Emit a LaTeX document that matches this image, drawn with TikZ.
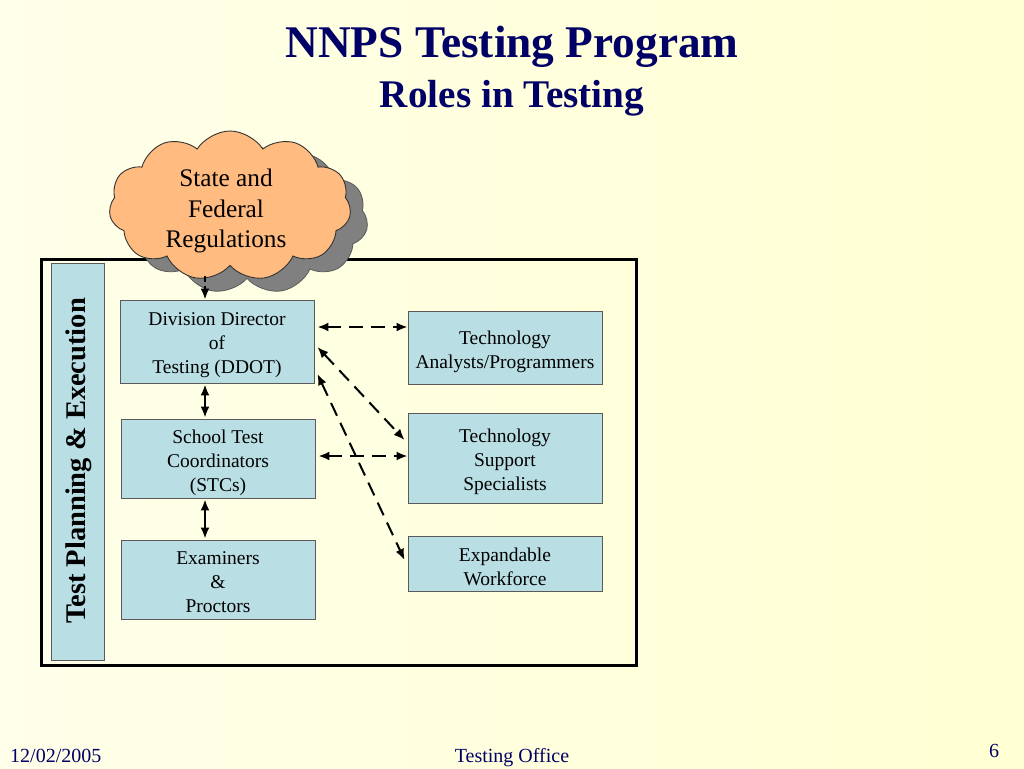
\documentclass[tikz,border=0pt]{standalone}
\usepackage{fontspec}
\setmainfont{Liberation Serif}
\usetikzlibrary{shapes.symbols,arrows.meta}
\definecolor{navy}{HTML}{000066}
\definecolor{bgleft}{HTML}{FFFFEA}
\definecolor{bgright}{HTML}{FFFFD2}
\definecolor{boxfill}{HTML}{B9DEE4}
\definecolor{boxborder}{HTML}{5A5A5A}
\definecolor{cloudfill}{HTML}{FFBB80}
\definecolor{cloudshadow}{HTML}{808080}
\begin{document}
\begin{tikzpicture}[x=1pt,y=-1pt,
  rolebox/.style={draw=boxborder, line width=0.9pt, fill=boxfill, minimum width=194pt, inner sep=0pt},
  roletext/.style={align=center, inner sep=0pt, font=\fontsize{19.5}{24}\selectfont},
  solidlink/.style={line width=2pt, {Latex[length=11pt,width=9pt]}-{Latex[length=11pt,width=9pt]}},
  dashlink/.style={line width=2pt, dash pattern=on 14pt off 8pt, {Latex[length=11pt,width=9pt]}-{Latex[length=11pt,width=9pt]}},
  dashone/.style={line width=2pt, dash pattern=on 6pt off 4pt, -{Latex[length=11pt,width=9pt]}},
  cloudstyle/.style={cloud, cloud puffs=11, cloud puff arc=115, cloud ignores aspect,
    minimum width=242pt, minimum height=150pt, inner sep=0pt},
  foot/.style={text=navy, font=\fontsize{20}{22}\selectfont}
]
% background
\shade[left color=bgleft, right color=bgright] (0,0) rectangle (1024,768);
\useasboundingbox (0,0) rectangle (1024,768);

% titles
\node[anchor=base, text=navy, font=\bfseries\fontsize{45.3}{50}\selectfont, inner sep=0pt] (title) at (512,58) {NNPS Testing Program};
\node[anchor=base, text=navy, font=\bfseries\fontsize{39.2}{42}\selectfont, inner sep=0pt] (subtitle) at (512,107) {Roles in Testing};

% big frame
\node[draw=black, line width=3pt, minimum width=595pt, minimum height=406pt, inner sep=0pt] (frame) at (338.5,462) {};

% vertical label box
\node[draw=boxborder, line width=0.9pt, fill=boxfill, minimum width=53pt, minimum height=397pt, inner sep=0pt] (side) at (77.5,461.5) {};
\node[rotate=90, font=\bfseries\fontsize{28.5}{30}\selectfont, inner sep=0pt] (sidetext) at (79,461) {Test Planning \& Execution};

% cloud with shadow
\node[cloudstyle, fill=cloudshadow, draw=cloudshadow!70!black, line width=0.8pt] (cloudsh) at (247,219) {};
\node[cloudstyle, fill=cloudfill, draw=black!80, line width=0.9pt] (cloud) at (230,206) {};
\node[align=center, font=\fontsize{25.3}{30.5}\selectfont, inner sep=0pt] (cloudtext) at (226,211) {State and\\Federal\\Regulations};

% role boxes
\node[rolebox, minimum height=83pt] (ddot) at (217,341.5) {};
\node[roletext] (ddott) at ([yshift=-4pt]ddot.center) {Division Director\\of\\Testing (DDOT)};
\node[rolebox, minimum height=79pt] (stc) at (218,458.5) {};
\node[roletext] (stct) at ([yshift=-4pt]stc.center) {School Test\\Coordinators\\(STCs)};
\node[rolebox, minimum height=79pt] (exam) at (218,579.5) {};
\node[roletext] (examt) at ([yshift=-3pt]exam.center) {Examiners\\\&\\Proctors};
\node[rolebox, minimum height=73pt] (ana) at (505,347.5) {};
\node[roletext] (anat) at ([yshift=-4pt]ana.center) {Technology\\Analysts/Programmers};
\node[rolebox, minimum height=90pt] (sup) at (505,458) {};
\node[roletext] (supt) at ([yshift=-4pt]sup.center) {Technology\\Support\\Specialists};
\node[rolebox, minimum height=55pt] (exp) at (505,563.5) {};
\node[roletext] (expt) at ([yshift=-3pt]exp.center) {Expandable\\Workforce};

% connectors
\coordinate (cb) at (205,276);
\draw[dashone] (cb) -- (cb |- ddot.north);
\draw[solidlink, shorten <=1pt, shorten >=1pt] (ddot.south -| cb) -- (stc.north -| cb);
\draw[solidlink, shorten <=1pt, shorten >=1pt] (stc.south -| cb) -- (exam.north -| cb);

\coordinate (a1) at ([xshift=3pt,yshift=14.5pt]ddot.east);
\draw[dashlink] (a1) -- (a1 -| ana.west);
\draw[dashlink] ([xshift=3pt,yshift=-5.5pt]ddot.east) -- ([xshift=-3pt,yshift=18pt]sup.west);
\draw[dashlink] ([xshift=3pt,yshift=-32.5pt]ddot.east) -- ([xshift=-3pt,yshift=3.5pt]exp.west);
\coordinate (s1) at ([xshift=3pt,yshift=2.5pt]stc.east);
\draw[dashlink] (s1) -- (s1 -| sup.west);

% footer
\node[foot, anchor=base west, inner sep=0pt] (date) at (10,762) {12/02/2005};
\node[foot, anchor=base, inner sep=0pt] (office) at (512,762) {Testing Office};
\node[foot, anchor=base, inner sep=0pt] (page) at (994,757) {6};
\end{tikzpicture}
\end{document}
